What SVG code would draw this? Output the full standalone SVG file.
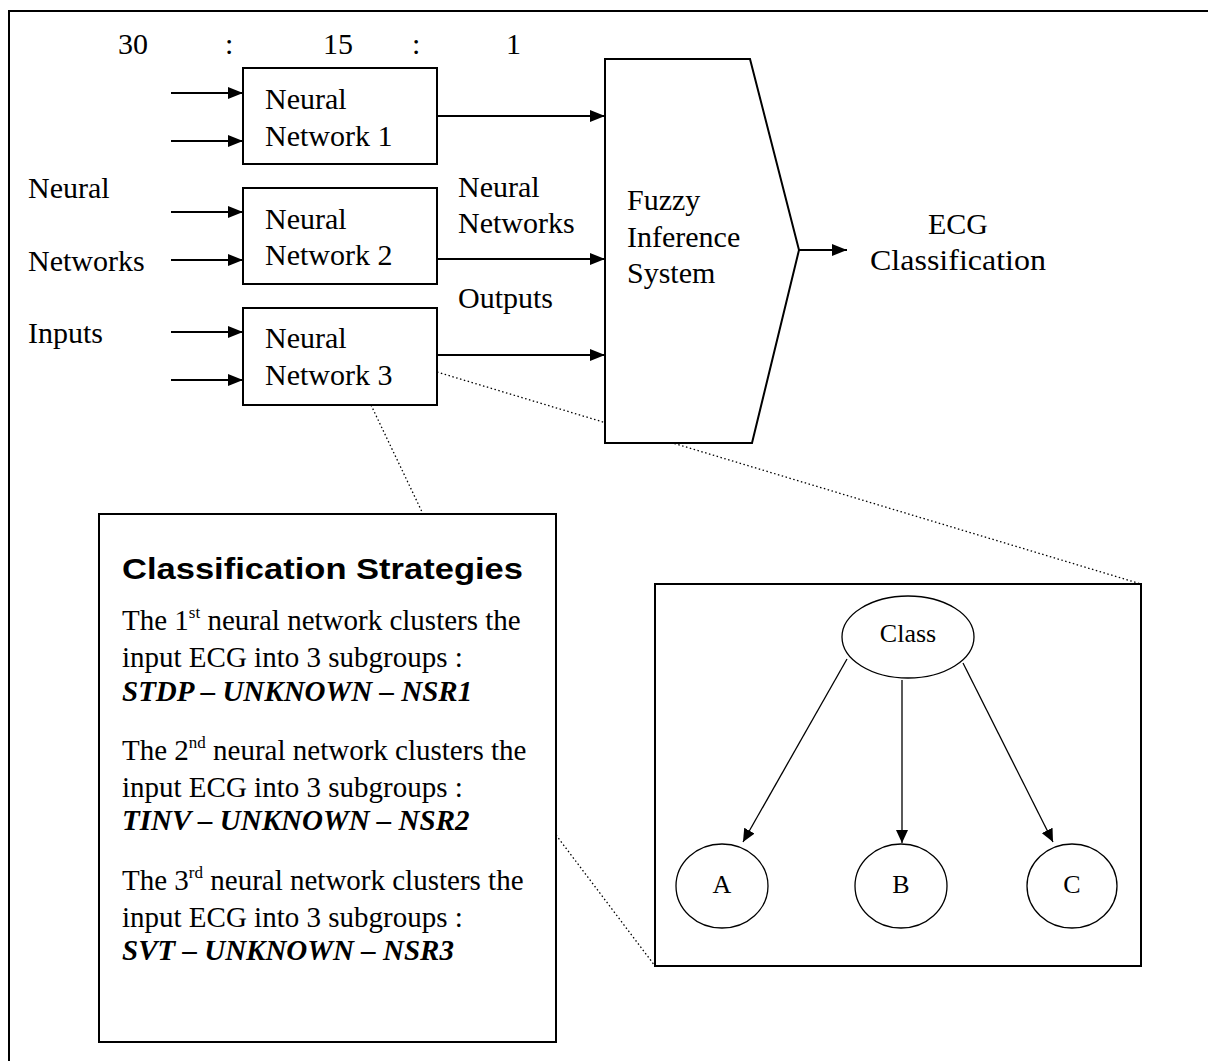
<svg xmlns="http://www.w3.org/2000/svg" width="1208" height="1061" viewBox="0 0 1208 1061">
<style>
.t{font-family:"Liberation Serif","Times New Roman",serif;font-size:30px;fill:#000}
.b{font-family:"Liberation Serif","Times New Roman",serif;font-size:29px;fill:#000}
.bi{font-family:"Liberation Serif","Times New Roman",serif;font-size:29px;font-weight:bold;font-style:italic;fill:#000}
.h{font-family:"Liberation Sans",Arial,sans-serif;font-size:30px;font-weight:bold;fill:#000}
.s{font-family:"Liberation Serif","Times New Roman",serif;font-size:26px;fill:#000}
.box{fill:#fff;stroke:#000;stroke-width:2}
.ln{fill:none;stroke:#000;stroke-width:2}
.thin{fill:none;stroke:#000;stroke-width:1.3}
.dot{fill:none;stroke:#000;stroke-width:1.3;stroke-dasharray:1.5 2.5}
</style>
<defs>
<marker id="ah" markerUnits="userSpaceOnUse" markerWidth="16" markerHeight="12" refX="15" refY="6" orient="auto">
<path d="M0,0 L15,6 L0,12 z" fill="#000"/>
</marker>
<marker id="ah2" markerUnits="userSpaceOnUse" markerWidth="13" markerHeight="12" refX="13" refY="6" orient="auto">
<path d="M0,0 L13,6 L0,12 z" fill="#000"/>
</marker>
</defs>
<rect width="1208" height="1061" fill="#fff"/>
<g id="frame">
<path class="ln" d="M9,1061 V11 H1208"/>
</g>
<g id="tree">
<rect class="box" x="655" y="584" width="486" height="382"/>
</g>
<g id="ratio">
<text class="t" x="118" y="54">30</text>
<text class="t" x="225" y="54">:</text>
<text class="t" x="323" y="54">15</text>
<text class="t" x="412" y="54">:</text>
<text class="t" x="506" y="54">1</text>
</g>
<g id="labels-left">
<text class="t" x="28" y="198">Neural</text>
<text class="t" x="28" y="271">Networks</text>
<text class="t" x="28" y="343">Inputs</text>
</g>
<g id="labels-mid">
<text class="t" x="458" y="197">Neural</text>
<text class="t" x="458" y="233">Networks</text>
<text class="t" x="458" y="308">Outputs</text>
</g>
<g id="connectors">
<line class="ln" x1="171" y1="93" x2="243" y2="93" marker-end="url(#ah)"/>
<line class="ln" x1="171" y1="141" x2="243" y2="141" marker-end="url(#ah)"/>
<line class="ln" x1="171" y1="212" x2="243" y2="212" marker-end="url(#ah)"/>
<line class="ln" x1="171" y1="260" x2="243" y2="260" marker-end="url(#ah)"/>
<line class="ln" x1="171" y1="332" x2="243" y2="332" marker-end="url(#ah)"/>
<line class="ln" x1="171" y1="380" x2="243" y2="380" marker-end="url(#ah)"/>
<line class="ln" x1="437" y1="116" x2="605" y2="116" marker-end="url(#ah)"/>
<line class="ln" x1="437" y1="259" x2="605" y2="259" marker-end="url(#ah)"/>
<line class="ln" x1="437" y1="355" x2="605" y2="355" marker-end="url(#ah)"/>
<line class="ln" x1="799" y1="250" x2="847" y2="250" marker-end="url(#ah)"/>
<line class="dot" x1="437" y1="372" x2="1141" y2="584"/>
<line class="dot" x1="371" y1="405" x2="423" y2="514"/>
<line class="dot" x1="556" y1="835" x2="655" y2="966"/>
<line class="thin" x1="847" y1="659" x2="743" y2="842" marker-end="url(#ah2)"/>
<line class="thin" x1="902" y1="680" x2="902" y2="843" marker-end="url(#ah2)"/>
<line class="thin" x1="963" y1="663" x2="1053" y2="842" marker-end="url(#ah2)"/>
</g>
<g id="nn1">
<rect class="box" x="243" y="68" width="194" height="96"/>
<text class="t" x="265" y="109">Neural</text>
<text class="t" x="265" y="146">Network 1</text>
</g>
<g id="nn2">
<rect class="box" x="243" y="188" width="194" height="96"/>
<text class="t" x="265" y="229">Neural</text>
<text class="t" x="265" y="265">Network 2</text>
</g>
<g id="nn3">
<rect class="box" x="243" y="308" width="194" height="97"/>
<text class="t" x="265" y="348">Neural</text>
<text class="t" x="265" y="385">Network 3</text>
</g>
<g id="fis">
<polygon class="box" points="605,59 750,59 799,250 752,443 605,443"/>
<text class="t" x="627" y="210">Fuzzy</text>
<text class="t" x="627" y="247">Inference</text>
<text class="t" x="627" y="283">System</text>
</g>
<g id="ecg">
<text class="t" x="958" y="234" text-anchor="middle">ECG</text>
<text class="t" x="958" y="270" text-anchor="middle" textLength="176" lengthAdjust="spacingAndGlyphs">Classification</text>
</g>
<g id="strategies">
<rect class="box" x="99" y="514" width="457" height="528"/>
<text class="h" x="122" y="579" textLength="401" lengthAdjust="spacingAndGlyphs">Classification Strategies</text>
<text class="b" x="122" y="630">The 1<tspan font-size="17" dy="-12">st</tspan><tspan dy="12"> neural network clusters the</tspan></text>
<text class="b" x="122" y="667">input ECG into 3 subgroups :</text>
<text class="bi" x="122" y="701">STDP – UNKNOWN – NSR1</text>
<text class="b" x="122" y="760">The 2<tspan font-size="17" dy="-12">nd</tspan><tspan dy="12"> neural network clusters the</tspan></text>
<text class="b" x="122" y="797">input ECG into 3 subgroups :</text>
<text class="bi" x="122" y="830">TINV – UNKNOWN – NSR2</text>
<text class="b" x="122" y="890">The 3<tspan font-size="17" dy="-12">rd</tspan><tspan dy="12"> neural network clusters the</tspan></text>
<text class="b" x="122" y="927">input ECG into 3 subgroups :</text>
<text class="bi" x="122" y="960">SVT – UNKNOWN – NSR3</text>
</g>
<g id="class">
<ellipse class="thin" cx="908" cy="637" rx="66" ry="41"/>
<text class="s" x="908" y="642" text-anchor="middle">Class</text>
</g>
<g id="a">
<ellipse class="thin" cx="722" cy="886" rx="46" ry="42"/>
<text class="s" x="722" y="893" text-anchor="middle">A</text>
</g>
<g id="b">
<ellipse class="thin" cx="901" cy="886" rx="46" ry="42"/>
<text class="s" x="901" y="893" text-anchor="middle">B</text>
</g>
<g id="c">
<ellipse class="thin" cx="1072" cy="886" rx="45" ry="42"/>
<text class="s" x="1072" y="893" text-anchor="middle">C</text>
</g>
</svg>
